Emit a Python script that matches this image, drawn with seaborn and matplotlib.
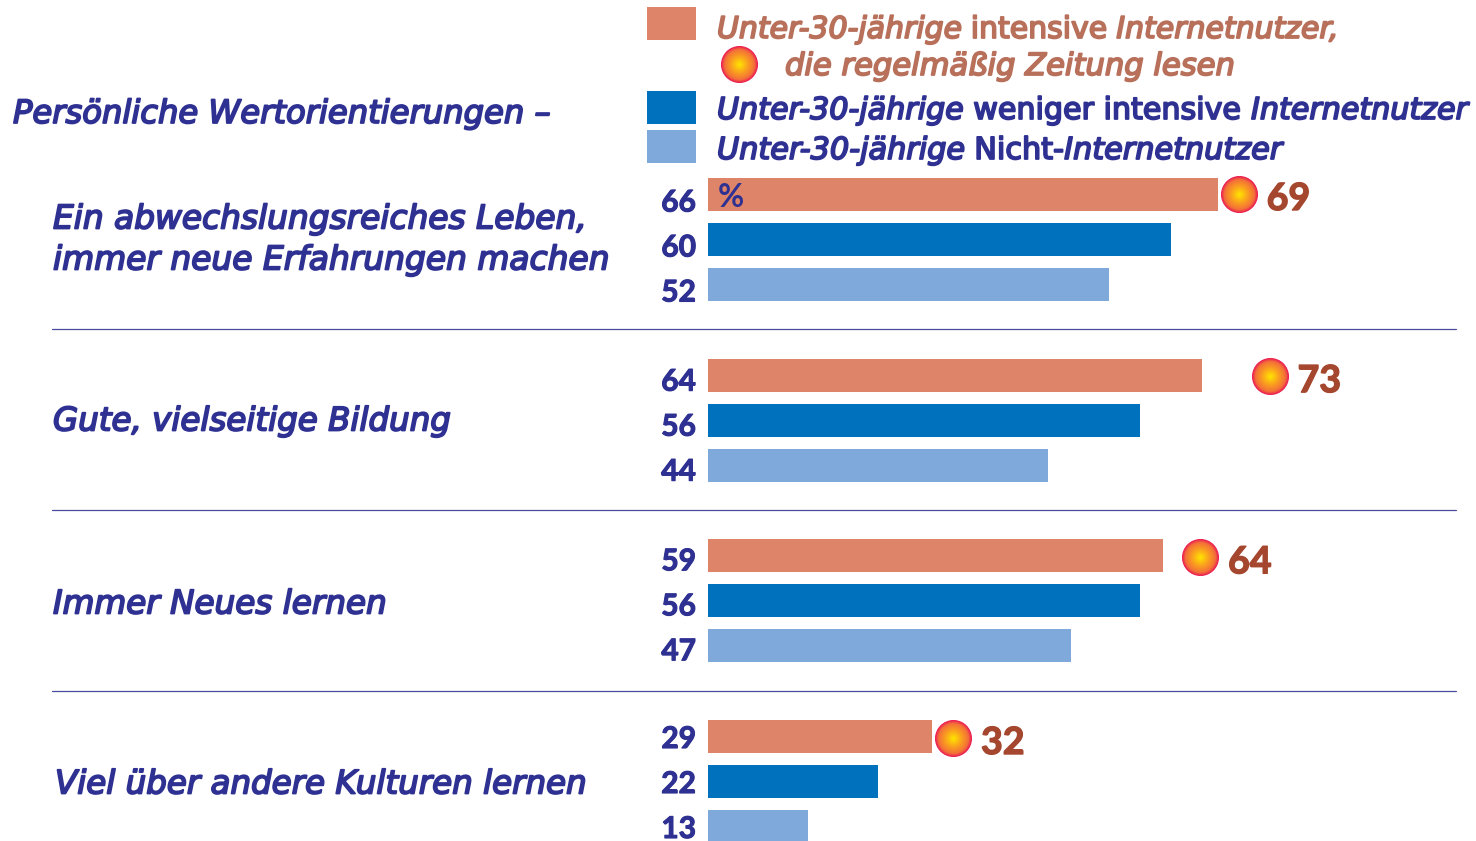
import numpy as np
import pandas as pd
import matplotlib
matplotlib.use("Agg")
import matplotlib.pyplot as plt
import matplotlib.patheffects as pe
from matplotlib.colors import LinearSegmentedColormap
from matplotlib.lines import Line2D
from matplotlib.patches import Rectangle
from matplotlib.transforms import Affine2D
import seaborn as sns

# ---- data ----
items = ["Ein abwechslungsreiches Leben", "Gute, vielseitige Bildung",
         "Immer Neues lernen", "Viel über andere Kulturen lernen"]
groups = ["intensiv", "weniger intensiv", "nicht"]
intensive = [66, 64, 59, 29]
less_intensive = [60, 56, 56, 22]
non_users = [52, 44, 47, 13]
readers = [69, 73, 64, 32]

NAVY, SALMON_TXT, RED_TXT = "#2E3192", "#B8705A", "#A5472F"
BAR_COLORS = ["#DE8469", "#0071BC", "#7FA8DB"]
NUM_FONT = "Lato"
TXT_FONT = "DejaVu Sans"
W, H = 1476, 841
PX_PER_UNIT = 7.72
X0_PX, Y0_PX, GROUP_PX = 708, 239.5, 180.67
LABEL_DROP = [17, 15.5, 14.5, 11.5]  # px from bar centre to label baseline, by group
DOT_SHIFT = [-0.5, 1, 1.5, 1.5]      # px, by group

sns.set_theme(style="white")
plt.rcParams["font.family"] = [NUM_FONT, "DejaVu Sans"]

df = pd.DataFrame({
    "item": np.repeat(items, 3),
    "group": groups * 4,
    "value": np.ravel(np.column_stack([intensive, less_intensive, non_users])),
})

fig = plt.figure(figsize=(W / 100, H / 100), dpi=100)
ax = fig.add_axes([0, 0, 1, 1])
sns.barplot(data=df, y="item", x="value", hue="group", order=items, hue_order=groups,
            palette=BAR_COLORS, width=135 / GROUP_PX, gap=12 / 45, saturation=1,
            legend=False, ax=ax, linewidth=0)
ax.set_xlim(-X0_PX / PX_PER_UNIT, (W - X0_PX) / PX_PER_UNIT)
ax.set_ylim((H - Y0_PX) / GROUP_PX, -Y0_PX / GROUP_PX)
ax.axis("off")

# pixel-space transform
PX = Affine2D().scale(1 / W, -1 / H).translate(0, 1) + fig.transFigure

# value labels
for cont in ax.containers:
    for g, bar in enumerate(cont):
        ax.annotate(f"{bar.get_width():.0f}", (0, bar.get_y() + bar.get_height() / 2),
                    xytext=(-12 * .72, -LABEL_DROP[g] * .72), textcoords="offset points",
                    ha="right", va="baseline", color=NAVY, fontsize=21.5, fontweight="bold",
                    annotation_clip=False,
                    path_effects=[pe.withStroke(linewidth=0.8, foreground=NAVY)])

# gradient dot
cmap = LinearSegmentedColormap.from_list(
    "dot", [(0, "#FFE800"), (.45, "#FAA21E"), (.82, "#F4703A"), (1, "#EC1C54")])
def dot(x, y, transform, diam_px=37):
    for f in np.linspace(1, 0.03, 40):
        ax.scatter([x], [y], s=(diam_px * f * .72) ** 2, color=cmap(f), linewidths=0,
                   transform=transform, zorder=5, clip_on=False)

top_offset = -45 / GROUP_PX
for i, v in enumerate(readers):
    yv = i + top_offset + DOT_SHIFT[i] / GROUP_PX
    dot(v - 2 / PX_PER_UNIT, yv, ax.transData)
    ax.annotate(str(v), (v, yv), xytext=(26 * .72, -16 * .72), textcoords="offset points",
                ha="left", va="baseline", color=RED_TXT, fontsize=27, fontweight="bold",
                path_effects=[pe.withStroke(linewidth=1.0, foreground=RED_TXT)])
dot(739, 64, PX)

# group dividers
for y in [329.5, 510.5, 691.5]:
    fig.add_artist(Line2D([52, 1456], [y, y], color="#4A4A9E", lw=0.9, transform=PX))

# legend swatches
for top, c in zip([7, 91, 130], BAR_COLORS):
    fig.add_artist(Rectangle((647, top), 49, 33, color=c, lw=0, transform=PX))

renderer = fig.canvas.get_renderer()
def runs(parts, x, y, target, color):
    """Text with mixed italic/upright parts, scaled so that the line spans target px."""
    def lay(size, draw=False):
        cur = x
        for s, style in parts:
            t = fig.text(cur, y, s, transform=PX, fontsize=size, fontstyle=style,
                         color=color, family=TXT_FONT, va="baseline", ha="left",
                         path_effects=[pe.withStroke(linewidth=1.3, foreground=color)])
            cur += t.get_window_extent(renderer).width
            if not draw:
                t.remove()
        return cur - x
    size = 24 * target / lay(24)
    lay(size, True)

I, N = "italic", "normal"
runs([("Persönliche Wertorientierungen –", I)], 13, 123, 538, NAVY)
runs([("Ein abwechslungsreiches Leben,", I)], 53, 228.5, 534, NAVY)
runs([("immer neue Erfahrungen machen", I)], 53, 269.5, 557, NAVY)
runs([("Gute, vielseitige Bildung", I)], 53, 430.5, 398, NAVY)
runs([("Immer Neues lernen", I)], 53, 613.5, 334, NAVY)
runs([("Viel über andere Kulturen lernen", I)], 55, 793.5, 532, NAVY)
runs([("Unter-30-jährige ", I), ("intensive ", N), ("Internetnutzer,", I)], 717, 38, 623, SALMON_TXT)
runs([("die regelmäßig Zeitung lesen", I)], 785, 75, 450, SALMON_TXT)
runs([("Unter-30-jährige ", I), ("weniger intensive ", N), ("Internetnutzer", I)], 717, 119, 751, NAVY)
runs([("Unter-30-jährige ", I), ("Nicht-", N), ("Internetnutzer", I)], 717, 159, 566, NAVY)
fig.text(718, 207, "%", transform=PX, color=NAVY, fontsize=23, fontweight="bold", family=NUM_FONT,
         va="baseline", ha="left")

fig.savefig("out.png", dpi=100)
